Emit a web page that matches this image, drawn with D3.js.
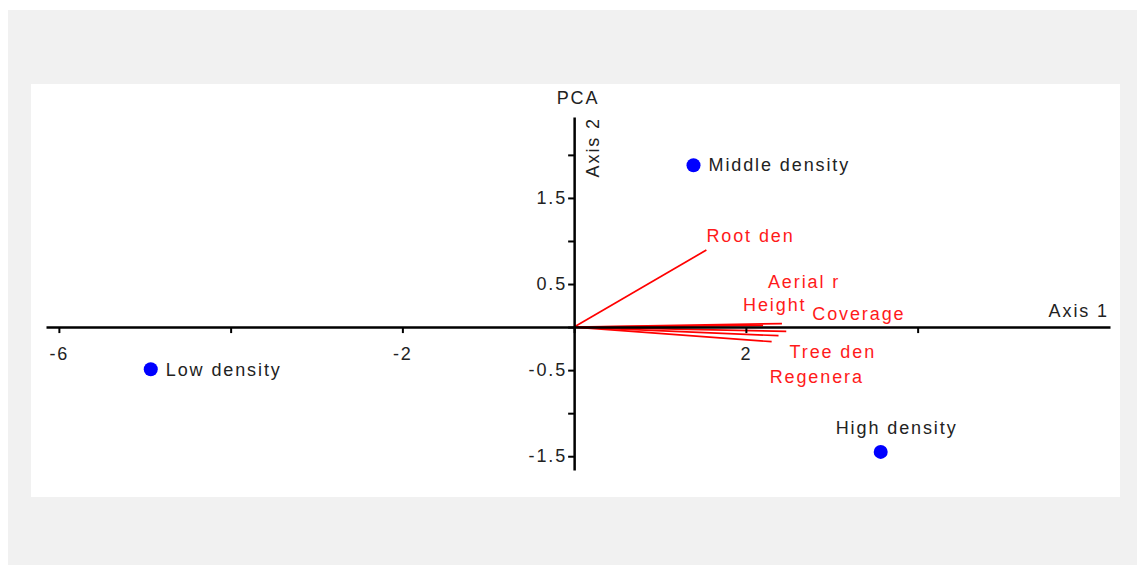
<!DOCTYPE html>
<html>
<head>
<meta charset="utf-8">
<script src="https://cdn.jsdelivr.net/npm/d3@7"></script>
<style>
  body { margin: 0; background: #fff; }
  text { font-family: "Liberation Sans", Arial, sans-serif; }
</style>
</head>
<body>
<div id="chart"></div>
<script>
// Site scores (sample groups)
const siteNames = ["Middle density", "Low density", "High density"];
const siteX = [1.39, -4.93, 3.57];
const siteY = [1.88, -0.49, -1.45];

// Variable loadings (vectors from origin)
const varNames = ["Root den", "Aerial r", "Height", "Coverage", "Tree den", "Regenera"];
const varX = [1.54, 2.42, 2.20, 2.47, 2.38, 2.30];
const varY = [0.895, 0.04, 0.02, -0.05, -0.10, -0.17];

// Axis ticks
const xTicks = [-6, -4, -2, 0, 2, 4];
const xTickLabels = ["-6", "", "-2", "", "2", ""];
const yTicks = [2, 1.5, 1, 0.5, 0, -0.5, -1, -1.5];
const yTickLabels = ["", "1.5", "", "0.5", "", "-0.5", "", "-1.5"];

const width = 1137;
const height = 565;

// label offsets (px) relative to vector tips, as the software laid them out
const varLabelDx = [0, -14, -20, 26, 11, -2];
const varLabelDy = [-8, -36, -14, -11, 22, 41];

const svg = d3.select("#chart")
  .append("svg")
  .attr("width", width)
  .attr("height", height);

// panels
svg.append("rect").attr("x", 8).attr("y", 10).attr("width", width - 8).attr("height", height - 10).attr("fill", "#f1f1f1");
svg.append("rect").attr("x", 31).attr("y", 84).attr("width", 1089).attr("height", 413).attr("fill", "#fff");

const x = d3.scaleLinear().domain([-6.15, 6.24]).range([46, 1110]);
const y = d3.scaleLinear().domain([2.44, -1.66]).range([117, 470]);

const fontSize = 18;
const spacing = "1.9px";
const textColor = "#222";

// red loading vectors
const vecs = svg.append("g");
vecs.selectAll("line")
  .data(varNames)
  .join("line")
    .attr("x1", x(0))
    .attr("y1", y(0))
    .attr("x2", (d, i) => x(varX[i]))
    .attr("y2", (d, i) => y(varY[i]))
    .attr("stroke", "#ff0000")
    .attr("stroke-width", 1.7);

// axes
const gx = svg.append("g")
  .attr("transform", `translate(0,${y(0)})`)
  .call(d3.axisBottom(x).tickValues(xTicks).tickSize(6).tickSizeOuter(0).tickPadding(14)
    .tickFormat((d, i) => xTickLabels[i]));

const gy = svg.append("g")
  .attr("transform", `translate(${x(0)},0)`)
  .call(d3.axisLeft(y).tickValues(yTicks).tickSize(6).tickSizeOuter(0).tickPadding(1)
    .tickFormat((d, i) => yTickLabels[i]));

[gx, gy].forEach(g => {
  g.select(".domain").attr("stroke", "#000").attr("stroke-width", 2.5);
  g.selectAll(".tick line").attr("stroke", "#000").attr("stroke-width", 2);
  g.selectAll(".tick text")
    .attr("fill", textColor)
    .style("font-size", fontSize + "px")
    .style("letter-spacing", spacing)
    .style("font-family", '"Liberation Sans", Arial, sans-serif');
});

// vector labels
svg.append("g").selectAll("text")
  .data(varNames)
  .join("text")
    .attr("x", (d, i) => x(varX[i]) + varLabelDx[i])
    .attr("y", (d, i) => y(varY[i]) + varLabelDy[i])
    .attr("fill", "#ff1a1a")
    .style("font-size", fontSize + "px")
    .style("letter-spacing", spacing)
    .text(d => d);

// site points
svg.append("g").selectAll("circle")
  .data(siteNames)
  .join("circle")
    .attr("cx", (d, i) => x(siteX[i]))
    .attr("cy", (d, i) => y(siteY[i]))
    .attr("r", 7)
    .attr("fill", "#0000ff");

const siteLabelDx = [15, 15, -45];
const siteLabelDy = [6, 7, -18];
svg.append("g").selectAll("text")
  .data(siteNames)
  .join("text")
    .attr("x", (d, i) => x(siteX[i]) + siteLabelDx[i])
    .attr("y", (d, i) => y(siteY[i]) + siteLabelDy[i])
    .attr("fill", textColor)
    .style("font-size", fontSize + "px")
    .style("letter-spacing", spacing)
    .text(d => d);

// titles
svg.append("text")
  .attr("x", 578).attr("y", 104)
  .attr("text-anchor", "middle")
  .attr("fill", textColor)
  .style("font-size", fontSize + "px")
  .style("letter-spacing", spacing)
  .text("PCA");

svg.append("text")
  .attr("x", 1109).attr("y", 317)
  .attr("text-anchor", "end")
  .attr("fill", textColor)
  .style("font-size", fontSize + "px")
  .style("letter-spacing", spacing)
  .text("Axis 1");

svg.append("text")
  .attr("transform", "translate(599,117) rotate(-90)")
  .attr("text-anchor", "end")
  .attr("fill", textColor)
  .style("font-size", fontSize + "px")
  .style("letter-spacing", spacing)
  .text("Axis 2");
</script>
</body>
</html>
